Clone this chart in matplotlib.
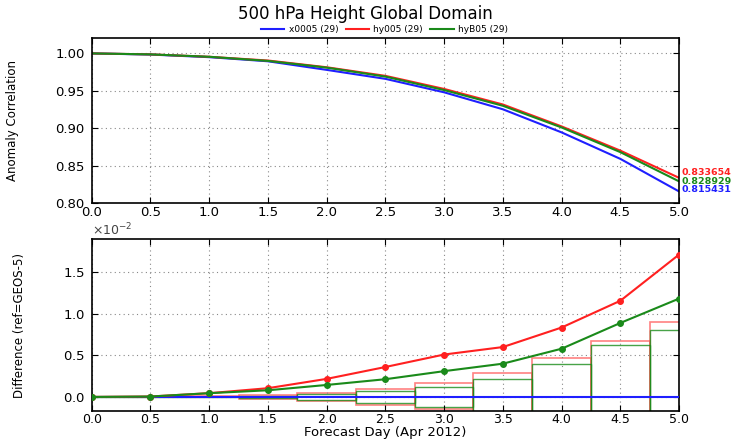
import matplotlib
matplotlib.use("Agg")
import matplotlib.pyplot as plt
import numpy as np

days = [0.0, 0.5, 1.0, 1.5, 2.0, 2.5, 3.0, 3.5, 4.0, 4.5, 5.0]
series_names = ["x0005 (29)", "hy005 (29)", "hyB05 (29)"]
colors = ["#1f1fff", "#ff2020", "#1a8a1a"]

acc_x0005 = [1.0, 0.9985, 0.995, 0.9895, 0.978, 0.966, 0.948, 0.9253, 0.8944, 0.859, 0.815431]
acc_hy005 = [1.0, 0.9987, 0.9955, 0.9905, 0.9815, 0.970, 0.9525, 0.9317, 0.9024, 0.870, 0.833654]
acc_hyB05 = [1.0, 0.9987, 0.9955, 0.990, 0.981, 0.969, 0.951, 0.930, 0.901, 0.868, 0.828929]

# differences (units of 1e-2)
diff_x0005 = [0.0] * 11
diff_hy005 = [0.0, 0.005, 0.045, 0.105, 0.217, 0.36, 0.51, 0.60, 0.835, 1.157, 1.713]
diff_hyB05 = [0.0, 0.005, 0.045, 0.08, 0.144, 0.213, 0.31, 0.40, 0.58, 0.89, 1.183]

# significance boxes (units of 1e-2)
ci_hy005_up = [0.0, 0.0, 0.006, 0.02, 0.05, 0.097, 0.163, 0.283, 0.47, 0.677, 0.905]
ci_hy005_lo = [0.0, 0.0, -0.006, -0.02, -0.05, -0.10, -0.145, -0.283, -0.47, -0.677, -0.905]
ci_hyB05_up = [0.0, 0.0, 0.004, 0.012, 0.035, 0.07, 0.12, 0.22, 0.40, 0.63, 0.80]
ci_hyB05_lo = [0.0, 0.0, -0.004, -0.012, -0.04, -0.07, -0.12, -0.22, -0.40, -0.63, -0.80]

scale = 1e-2

fig = plt.figure(figsize=(7.31, 4.42), dpi=100)
ax1 = fig.add_axes([0.1254, 0.5407, 0.8036, 0.3723])
ax2 = fig.add_axes([0.1254, 0.0700, 0.8036, 0.3893])

x = np.array(days)
handles = []
for vals, c, name in zip([acc_x0005, acc_hy005, acc_hyB05], colors, series_names):
    h, = ax1.plot(x, vals, color=c, lw=1.5, label=name)
    handles.append(h)

ax1.set_xlim(0, 5)
ax1.set_ylim(0.80, 1.02)
ax1.set_yticks([0.80, 0.85, 0.90, 0.95, 1.00])
ax1.set_xticks(days)
ax1.set_ylabel("Anomaly Correlation", fontsize=8.5, labelpad=26)

# end value annotations
for vals, c, off in zip([acc_x0005, acc_hy005, acc_hyB05], colors, [1.5, 3.5, 0]):
    ax1.annotate(f"{vals[-1]:.6f}", xy=(5.0, vals[-1]), xycoords="data",
                 xytext=(2, off), textcoords="offset points",
                 color=c, fontsize=6.8, fontweight="bold", va="center", ha="left",
                 annotation_clip=False)

fig.legend(handles=handles, loc="center", bbox_to_anchor=(0.526, 0.933), ncol=3,
           frameon=False, fontsize=6.5, handlelength=2.6, columnspacing=0.8,
           handletextpad=0.5)
fig.suptitle("500 hPa Height Global Domain", y=0.988, fontsize=12)

# bottom: boxes
up_r = np.array(ci_hy005_up) * scale
lo_r = np.array(ci_hy005_lo) * scale
up_g = np.array(ci_hyB05_up) * scale
lo_g = np.array(ci_hyB05_lo) * scale
ax2.bar(x, up_r - lo_r, bottom=lo_r, width=0.5, fill=False,
        edgecolor=(1, 0.3, 0.3, 0.7), lw=1.2)
ax2.bar(x, up_g - lo_g, bottom=lo_g, width=0.5, fill=False,
        edgecolor=(0.1, 0.55, 0.1, 0.8), lw=1.0)

ax2.plot(x, np.array(diff_x0005) * scale, color=colors[0], lw=1.5, zorder=3)
ax2.plot(x, np.array(diff_hy005) * scale, color=colors[1], lw=1.5, marker="o", ms=4, zorder=4)
ax2.plot(x, np.array(diff_hyB05) * scale, color=colors[2], lw=1.5, marker="o", ms=4, zorder=5)

ax2.set_xlim(0, 5)
ax2.set_ylim(-0.17 * scale, 1.9 * scale)
ax2.set_yticks(np.array([0.0, 0.5, 1.0, 1.5]) * scale)
ax2.set_xticks(days)
ax2.ticklabel_format(axis="y", style="sci", scilimits=(0, 0), useMathText=True)
ax2.yaxis.get_offset_text().set_fontsize(9)
ax2.yaxis.get_offset_text().set_color("#444444")
ax2.set_ylabel("Difference (ref=GEOS-5)", fontsize=8.5, labelpad=26)
xl = ax2.set_xlabel("Forecast Day (Apr 2012)", fontsize=9.5)
xl.set_va("bottom")
ax2.xaxis.set_label_coords(0.5, -0.163)

for ax in (ax1, ax2):
    ax.grid(True, linestyle=(0, (1, 3)), color="#888888", lw=0.8)
    ax.tick_params(direction="in", top=True, right=True, labelsize=9.5, length=4)
    ax.tick_params(axis="y", pad=5)
    ax.tick_params(axis="x", pad=2)
    for s in ax.spines.values():
        s.set_linewidth(1.2)
ax2.tick_params(axis="x", pad=1.5, labelsize=9)

fig.savefig("out.png", dpi=100)
